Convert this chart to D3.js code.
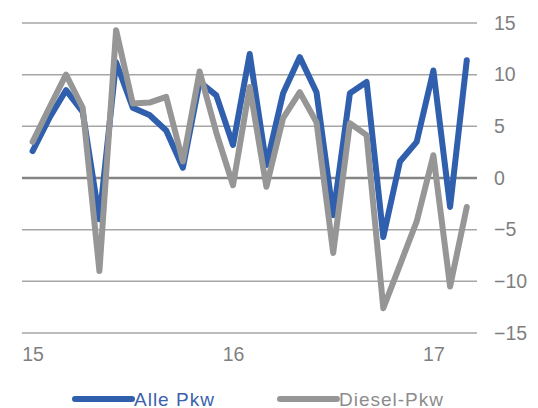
<!DOCTYPE html>
<html>
<head>
<meta charset="utf-8">
<script src="https://cdn.jsdelivr.net/npm/d3@7"></script>
<style>
  body { margin: 0; background: #fff; }
  svg { display: block; font-family: 'Liberation Sans', Arial, sans-serif; }
</style>
</head>
<body>
<div id="svg-container"></div>
<script>
// monthly, Jan 2015 .. Mar 2017 (index 0..26)
const months = d3.range(27)
const yearTicks = [0, 12, 24]
const yearLabels = ['15', '16', '17']
const yTicks = [15, 10, 5, 0, -5, -10, -15]

const allePkw = [
  2.6, 5.8, 8.5, 6.4, -4.0, 11.2, 6.8, 6.1, 4.6, 1.0, 9.3, 8.0,
  3.2, 12.0, 1.25, 8.2, 11.7, 8.3, -3.6, 8.2, 9.3, -5.7, 1.6, 3.5,
  10.4, -2.8, 11.4,
]
const dieselPkw = [
  3.5, 6.8, 10.0, 6.8, -9.0, 14.3, 7.2, 7.3, 7.85, 1.6, 10.3, 4.4,
  -0.7, 8.8, -0.85, 5.8, 8.3, 5.4, -7.25, 5.3, 4.15, -12.6, -8.4, -4.2,
  2.2, -10.5, -2.8,
]

const series = [
  { name: 'Alle Pkw', values: allePkw, color: '#2f5fad', textColor: '#3a62ad' },
  { name: 'Diesel-Pkw', values: dieselPkw, color: '#969696', textColor: '#8c8c8c' },
]

const svgWidth = 538
const svgHeight = 408
const gridLeft = 22
const gridRight = 477

const svg = d3
  .select('#svg-container')
  .append('svg')
  .attr('width', svgWidth)
  .attr('height', svgHeight)

const xScale = d3.scaleLinear().domain([0, 26]).range([32.6, 466.8])
const yScale = d3.scaleLinear().domain([-15, 15]).range([333, 23])

// gridlines
svg
  .append('g')
  .selectAll('line')
  .data(yTicks)
  .join('line')
  .attr('x1', gridLeft)
  .attr('x2', gridRight)
  .attr('y1', d => yScale(d))
  .attr('y2', d => yScale(d))
  .attr('stroke', d => (d === 0 ? '#858585' : '#a6a6a6'))
  .attr('stroke-width', d => (d === 0 ? 2.6 : 1.5))

// y-axis labels on the right
const yAxis = svg.append('g').attr('transform', `translate(${gridRight}, 0)`)
yAxis
  .call(d3.axisRight(yScale).tickValues(yTicks).tickSize(0).tickPadding(17))
  .call(g => g.select('.domain').remove())
  .call(g =>
    g
      .selectAll('text')
      .attr('fill', '#7f7f7f')
      .style('font-size', '19.5px')
      .style('font-family', "'Liberation Sans', Arial, sans-serif"),
  )

// x-axis labels
const xAxis = svg.append('g').attr('transform', 'translate(0, 347)')
xAxis
  .call(
    d3
      .axisBottom(xScale)
      .tickValues(yearTicks)
      .tickFormat((d, i) => yearLabels[i])
      .tickSize(0)
      .tickPadding(0),
  )
  .call(g => g.select('.domain').remove())
  .call(g =>
    g
      .selectAll('text')
      .attr('fill', '#7f7f7f')
      .style('font-size', '19.5px')
      .style('font-family', "'Liberation Sans', Arial, sans-serif"),
  )

const line = d3
  .line()
  .x((d, i) => xScale(months[i]))
  .y(d => yScale(d))

// draw gray (diesel) first? reference shows gray on top
const drawOrder = [series[0], series[1]]
svg
  .append('g')
  .selectAll('path')
  .data(drawOrder)
  .join('path')
  .attr('d', d => line(d.values))
  .attr('fill', 'none')
  .attr('stroke', d => d.color)
  .attr('stroke-width', 6)
  .attr('stroke-linejoin', 'round')
  .attr('stroke-linecap', 'round')

// legend
const legend = svg.append('g').attr('transform', 'translate(0, 399)')
const legendX = [75, 280]
const legendItem = legend
  .selectAll('g')
  .data(series)
  .join('g')
  .attr('transform', (d, i) => `translate(${legendX[i]}, 0)`)
legendItem
  .append('line')
  .attr('x1', 0)
  .attr('x2', 57)
  .attr('stroke', d => d.color)
  .attr('stroke-width', 6)
  .attr('stroke-linecap', 'round')
legendItem
  .append('text')
  .attr('x', 59)
  .attr('y', 7)
  .attr('fill', d => d.textColor)
  .style('font-size', '19px')
  .style('letter-spacing', '1px')
  .text(d => d.name)
</script>
</body>
</html>
